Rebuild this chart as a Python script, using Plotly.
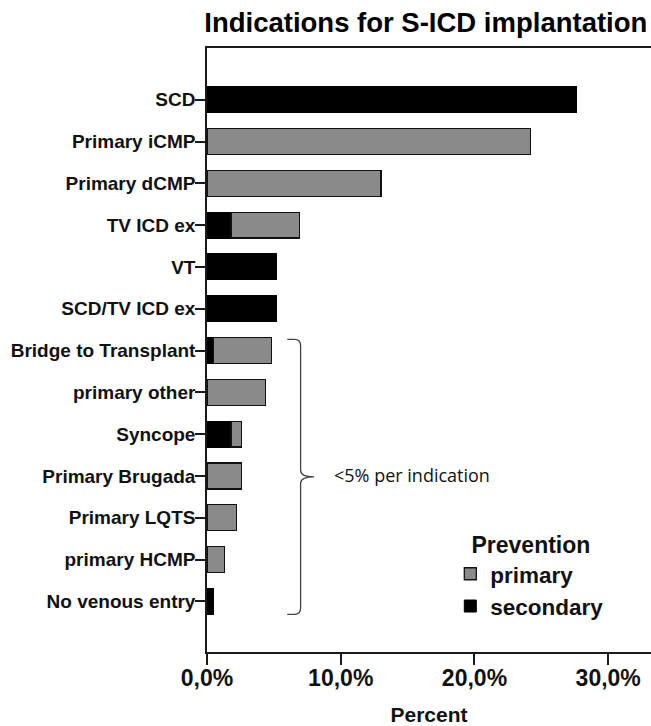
import plotly.graph_objects as go

# ---- data ----
categories = [
    "SCD", "Primary iCMP", "Primary dCMP", "TV ICD ex", "VT", "SCD/TV ICD ex",
    "Bridge to Transplant", "primary other", "Syncope", "Primary Brugada",
    "Primary LQTS", "primary HCMP", "No venous entry",
]
secondary = [27.6, None, None, 1.8, 5.2, 5.2, 0.5, None, 1.8, None, None, None, 0.5]
primary = [None, 24.2, 13.0, 5.1, None, None, 4.3, 4.4, 0.8, 2.6, 2.2, 1.3, None]
x_tickvals = [0, 10, 20, 30]
x_ticktext = ["0,0%", "10,0%", "20,0%", "30,0%"]

title_text = "Indications for S-ICD implantation"
brace_text = "<5% per indication"
brace_first, brace_last = "Bridge to Transplant", "No venous entry"

# ---- style ----
GRAY = "#8a8a8a"
BLACK = "#000000"
LINE = "#1a1a1a"
FONT = "Liberation Sans, Arial, sans-serif"
X_RANGE = [0, 33.2]
Y_RANGE = [13.21, -1.237]
BAR_W = 0.62

fig = go.Figure()
fig.add_bar(
    y=categories, x=secondary, orientation="h", name="secondary", width=BAR_W,
    marker=dict(color=BLACK, line=dict(color=BLACK, width=1)),
)
fig.add_bar(
    y=categories, x=primary, orientation="h", name="primary", width=BAR_W,
    marker=dict(color=GRAY, line=dict(color="#111111", width=1.3)),
)


def yp(idx):
    return (Y_RANGE[0] - idx) / (Y_RANGE[0] - Y_RANGE[1])


i0 = categories.index(brace_first) - 0.27
i1 = categories.index(brace_last) + 0.31
im = (i0 + i1) / 2
top, mid, bot = yp(i0), yp(im), yp(i1)
r = 0.011
xa, xv, xt = 6.0, 7.0, 8.0
path = (
    f"M {xa},{top} L {xv-0.45},{top} Q {xv},{top} {xv},{top-r} "
    f"L {xv},{mid+r} Q {xv},{mid} {xt},{mid} Q {xv},{mid} {xv},{mid-r} "
    f"L {xv},{bot+r} Q {xv},{bot} {xv-0.45},{bot} L {xa},{bot}"
)
fig.add_shape(type="path", path=path, xref="x", yref="paper",
              line=dict(color="#444444", width=1.3))

fig.add_annotation(
    text=brace_text, xref="x", yref="paper", x=9.35, y=yp(im - 0.04),
    xanchor="left", yanchor="middle", showarrow=False,
    font=dict(family="Open Sans, Liberation Sans, sans-serif", size=18, color="#111111"),
)

fig.update_layout(
    width=651, height=726,
    margin=dict(l=207, r=0, t=48, b=74),
    plot_bgcolor="white", paper_bgcolor="white",
    barmode="stack", bargap=0.38,
    font=dict(family=FONT, color="#111111"),
    title=dict(
        text=title_text, x=0.4928, xref="paper", xanchor="center",
        y=1 - 22.8 / 726, yref="container", yanchor="middle",
        font=dict(family=FONT, size=27.5, weight="bold", color="#000000"),
    ),
    xaxis=dict(
        range=X_RANGE, tickvals=x_tickvals, ticktext=x_ticktext,
        showline=True, linecolor=LINE, linewidth=1.5, mirror=True,
        ticks="outside", ticklen=11, tickwidth=1.5, tickcolor=LINE,
        ticklabelstandoff=-6,
        tickfont=dict(family=FONT, size=23, weight="bold", color="#111111"),
        showgrid=False, zeroline=False, automargin=False,
        title=dict(text="Percent", standoff=20,
                   font=dict(family=FONT, size=21, weight="bold", color="#111111")),
    ),
    yaxis=dict(
        type="category", categoryorder="array", categoryarray=categories,
        range=Y_RANGE,
        showline=True, linecolor=LINE, linewidth=1.5,
        ticks="outside", ticklen=10, tickwidth=1.5, tickcolor=LINE,
        ticklabelstandoff=-4,
        tickfont=dict(family=FONT, size=19, weight="bold", color="#111111"),
        showgrid=False, zeroline=False, automargin=False,
    ),
    showlegend=True,
    legend=dict(
        title=dict(text="&nbsp;&nbsp;&nbsp;Prevention",
                   font=dict(family=FONT, size=23, weight="bold", color="#111111")),
        font=dict(family=FONT, size=22.5, weight="bold", color="#111111"),
        traceorder="reversed", x=0.548, y=0.214, xanchor="left", yanchor="top",
        bgcolor="rgba(0,0,0,0)", itemwidth=30, tracegroupgap=0,
    ),
)

fig.write_html(
    "out.html",
    config={"displayModeBar": False},
    post_script="document.body.style.margin='0';document.body.style.overflow='hidden';",
)
